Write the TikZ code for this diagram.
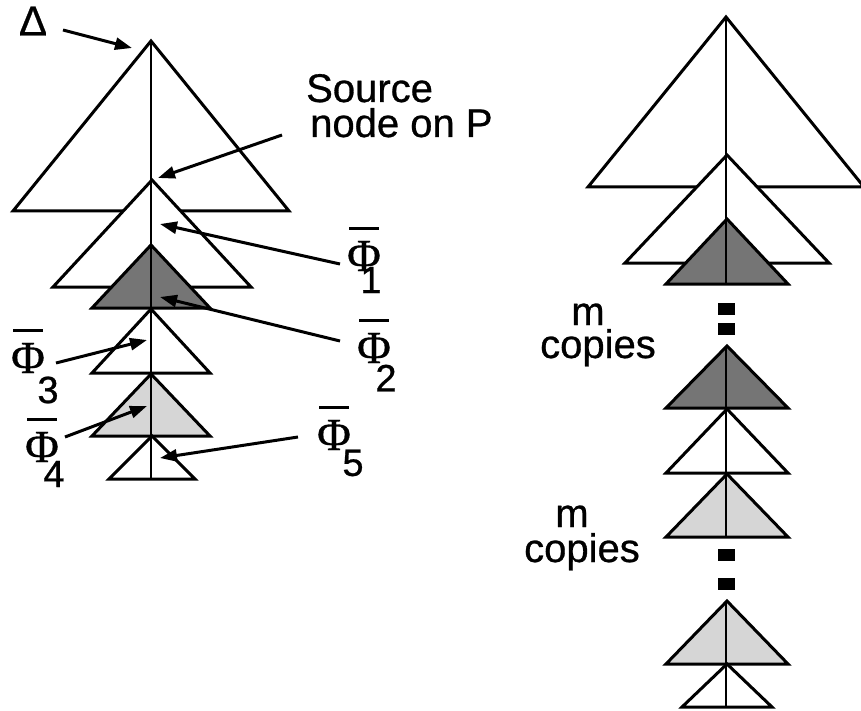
\documentclass[tikz,border=0pt]{standalone}
\usepackage{fontspec}
\setmainfont{Liberation Sans}
\newfontfamily\labelfont[FakeBold=0.7]{Liberation Sans}
\newfontfamily\greekfont[FakeBold=0.7]{Liberation Serif}
\usetikzlibrary{arrows.meta}

% one triangle of a tree: centre x, apex y, base y, half width, fill
\newcommand{\treetri}[5]{%
  \filldraw[tri,fill=#5] (#1,#2) -- ({#1-#4},#3) -- ({#1+#4},#3) -- cycle;}
% a small black square of the "m copies" ellipsis
\newcommand{\gapmark}[2]{%
  \fill ({#1-8.5},{#2-6}) rectangle ({#1+8.5},{#2+6});}

\begin{document}
\begin{tikzpicture}[x=1pt,y=-1pt,
  tri/.style={draw=black,line width=3pt,line join=miter},
  axis/.style={draw=black,line width=2.3pt},
  arr/.style={draw=black,line width=3pt,-{Triangle[length=17pt,width=12pt]}},
  bar/.style={draw=black,line width=2.8pt},
  lbl/.style={inner sep=0pt,font=\labelfont\fontsize{40}{44}\selectfont},
  phi/.style={inner sep=0pt,font=\greekfont\fontsize{46}{50}\selectfont},
  sub/.style={inner sep=0pt,font=\labelfont\fontsize{38}{42}\selectfont},
  dlt/.style={inner sep=0pt,font=\labelfont\fontsize{42}{46}\selectfont},
]
\definecolor{darkfill}{gray}{0.46}
\definecolor{lightfill}{gray}{0.84}
\useasboundingbox (0,0) rectangle (861,711);

% ---------- left tree ----------
\treetri{151}{41}{211}{138}{white}
\treetri{152}{180}{287}{99}{white}
\treetri{151}{245}{308}{59}{darkfill}
\treetri{151}{309}{373}{59}{white}
\treetri{151}{374}{436}{59}{lightfill}
\treetri{152}{436}{479}{43}{white}
\draw[axis] (151,41) -- (151,479);

% ---------- right tree ----------
\treetri{726}{17}{187}{138}{white}
\treetri{727}{155}{263}{102}{white}
\treetri{727}{219}{284}{61}{darkfill}
\draw[axis] (726,17) -- (726,284);
\gapmark{726}{309}
\gapmark{726}{329}
\treetri{727}{346}{408}{61}{darkfill}
\treetri{727}{409}{473}{61}{white}
\treetri{727}{474}{537}{61}{lightfill}
\draw[axis] (726,346) -- (726,537);
\gapmark{726}{555}
\gapmark{726}{584}
\treetri{727}{601}{664}{61}{lightfill}
\treetri{727}{664}{707}{45}{white}
\draw[axis] (726,601) -- (726,707);

% ---------- labels ----------
\node[dlt] (delta) at (33,21) {Δ};
\node[lbl,anchor=base west] (srcA) at (306,102) {Source};
\node[lbl,anchor=base west] (srcB) at (310,137) {node on P};

\node[phi] (phi1) at (364,256) {Φ};
\node[phi] (phi2) at (374,348) {Φ};
\node[phi] (phi3) at (28,358) {Φ};
\node[phi] (phi4) at (42,447) {Φ};
\node[phi] (phi5) at (334,435) {Φ};
\foreach \p in {phi1,phi2,phi3,phi4,phi5}
  \draw[bar] ([xshift=-15pt,yshift=12pt]\p.north) -- ([xshift=15pt,yshift=12pt]\p.north);
\node[sub] (sub1) at (371,280) {1};
\node[sub] (sub2) at (386,378) {2};
\node[sub] (sub3) at (48,390) {3};
\node[sub] (sub4) at (54,474) {4};
\node[sub] (sub5) at (353,463) {5};

\node[lbl,anchor=base] (mA) at (588,325) {m};
\node[lbl,anchor=base east] (copiesA) at (656,358) {copies};
\node[lbl,anchor=base] (mB) at (572,527) {m};
\node[lbl,anchor=base east] (copiesB) at (640,562) {copies};

% ---------- pointers ----------
\coordinate (deltaFrom) at (63,30);   \coordinate (deltaTo) at (132,48);
\coordinate (srcFrom) at (282,135);   \coordinate (srcTo) at (158,178);
\coordinate (phiAFrom) at (340,264);  \coordinate (phiATo) at (160,224);
\coordinate (phiBFrom) at (340,341);  \coordinate (phiBTo) at (160,297);
\coordinate (phiCFrom) at (56,363);   \coordinate (phiCTo) at (147,340);
\coordinate (phiDFrom) at (65,437);   \coordinate (phiDTo) at (147,406);
\coordinate (phiEFrom) at (298,437);  \coordinate (phiETo) at (160,458);
\draw[arr] (deltaFrom) -- (deltaTo);
\draw[arr] (srcFrom) -- (srcTo);
\draw[arr] (phiAFrom) -- (phiATo);
\draw[arr] (phiBFrom) -- (phiBTo);
\draw[arr] (phiCFrom) -- (phiCTo);
\draw[arr] (phiDFrom) -- (phiDTo);
\draw[arr] (phiEFrom) -- (phiETo);
\end{tikzpicture}
\end{document}
